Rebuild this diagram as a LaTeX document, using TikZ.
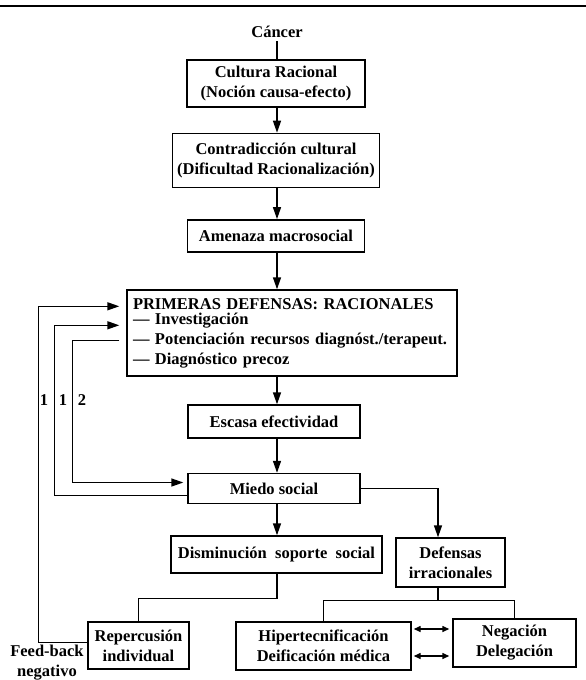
\documentclass[tikz,border=0pt]{standalone}
\usepackage{fontspec}
\setmainfont{Liberation Serif}
\usetikzlibrary{arrows.meta, positioning, calc}

\begin{document}
\begin{tikzpicture}[
    x=1pt, y=-1pt,
    font=\fontsize{16.5}{20}\selectfont\bfseries,
    box/.style={draw, line width=1.4pt, inner sep=0pt, align=center},
    arr/.style={-{Triangle[length=12pt, width=8pt]}, line width=1.4pt},
    link/.style={line width=1.4pt},
    both/.style={{Triangle[length=7pt, width=6pt]}-{Triangle[length=7pt, width=6pt]}, line width=1.4pt}
  ]
  \useasboundingbox (0,0) rectangle (586,680);
  \draw[line width=1.6pt] (0,6) -- (586,6);

  % main column
  \coordinate (spine) at (277,0);
  \node (cancer) at (277,32) {Cáncer};
  \node[box, minimum width=178pt, minimum height=47pt] (cultura) at (276,83.5) {Cultura Racional\\(Noción causa-efecto)};
  \node[box, minimum width=207pt, minimum height=54pt, below=25pt of cultura] (contra) {Contradicción cultural\\(Dificultad Racionalización)};
  \node[box, minimum width=177pt, minimum height=32pt, below=31pt of contra] (amenaza) {Amenaza macrosocial};
  \node[box, minimum width=330pt, minimum height=86pt, align=left, text width=318pt] (prim) at (292,333)
    {PRIMERAS DEFENSAS: RACIONALES\\[-5pt]
     --- Investigación\\
     --- Potenciación recursos diagnóst./terapeut.\\
     --- Diagnóstico precoz};
  \node[box, minimum width=172pt, minimum height=33pt] (escasa) at (274,421.5) {Escasa efectividad};
  \node[box, minimum width=172pt, minimum height=30pt] (miedo) at (274,488.5) {Miedo social};
  \node[box, minimum width=211pt, minimum height=37pt] (dismin) at (276.5,554.5) {Disminución~ soporte~ social};
  \node[box, minimum width=109pt, minimum height=49pt] (defensas) at (450.5,562.5) {Defensas\\irracionales};
  \node[box, minimum width=101pt, minimum height=47pt] (reper) at (138.5,645.5) {Repercusión\\individual};
  \node[box, minimum width=175pt, minimum height=48pt] (hiper) at (323.5,646) {Hipertecnificación\\Deificación médica};
  \node[box, minimum width=123pt, minimum height=48pt] (neg) at (514.5,643) {Negación\\Delegación};

  % labels
  \node (lab1) at (44,400) {1};
  \node (lab2) at (63,400) {1};
  \node (lab3) at (82,400) {2};
  \node[align=center] (feed) at (47,663) {Feed-back\\negativo};

  \draw[link] (spine |- cancer.south) -- (spine |- cultura.north);
  \draw[arr] (spine |- cultura.south) -- (spine |- contra.north);
  \draw[arr] (spine |- contra.south) -- (spine |- amenaza.north);
  \draw[arr] (spine |- amenaza.south) -- (spine |- prim.north);
  \draw[arr] (spine |- prim.south) -- (spine |- escasa.north);
  \draw[arr] (spine |- escasa.south) -- (spine |- miedo.north);
  \draw[arr] (spine |- miedo.south) -- (spine |- dismin.north);
  \draw[arr] (miedo.east) -| ([xshift=-12.5pt]defensas.north);

  \draw[link] (spine |- dismin.south) -- ++(0,25) -| (reper.north);
  \draw[link] ([xshift=-12.5pt]defensas.south) -- ++(0,13) coordinate (split);
  \draw[link] (hiper.north) |- (split) -| (neg.north);
  \draw[both] ($(hiper.east)+(2,-17)$) -- ($(neg.west)+(-3,-14)$);
  \draw[both] ($(hiper.east)+(2,10)$) -- ($(neg.west)+(-3,13)$);

  % feed-back loops
  \draw[arr] ($(reper.west)+(0,-3)$) -- ++(-49,0) |- ($(prim.north west)+(-7,17)$);
  \draw[arr] ($(miedo.west)+(0,7)$) -- ++(-133,0) |- ($(prim.north west)+(-7,36)$);
  \draw[arr] ($(prim.north west)+(-7,51)$) -- ++(-47,0) |- ($(miedo.west)+(-4,-6)$);
\end{tikzpicture}
\end{document}
